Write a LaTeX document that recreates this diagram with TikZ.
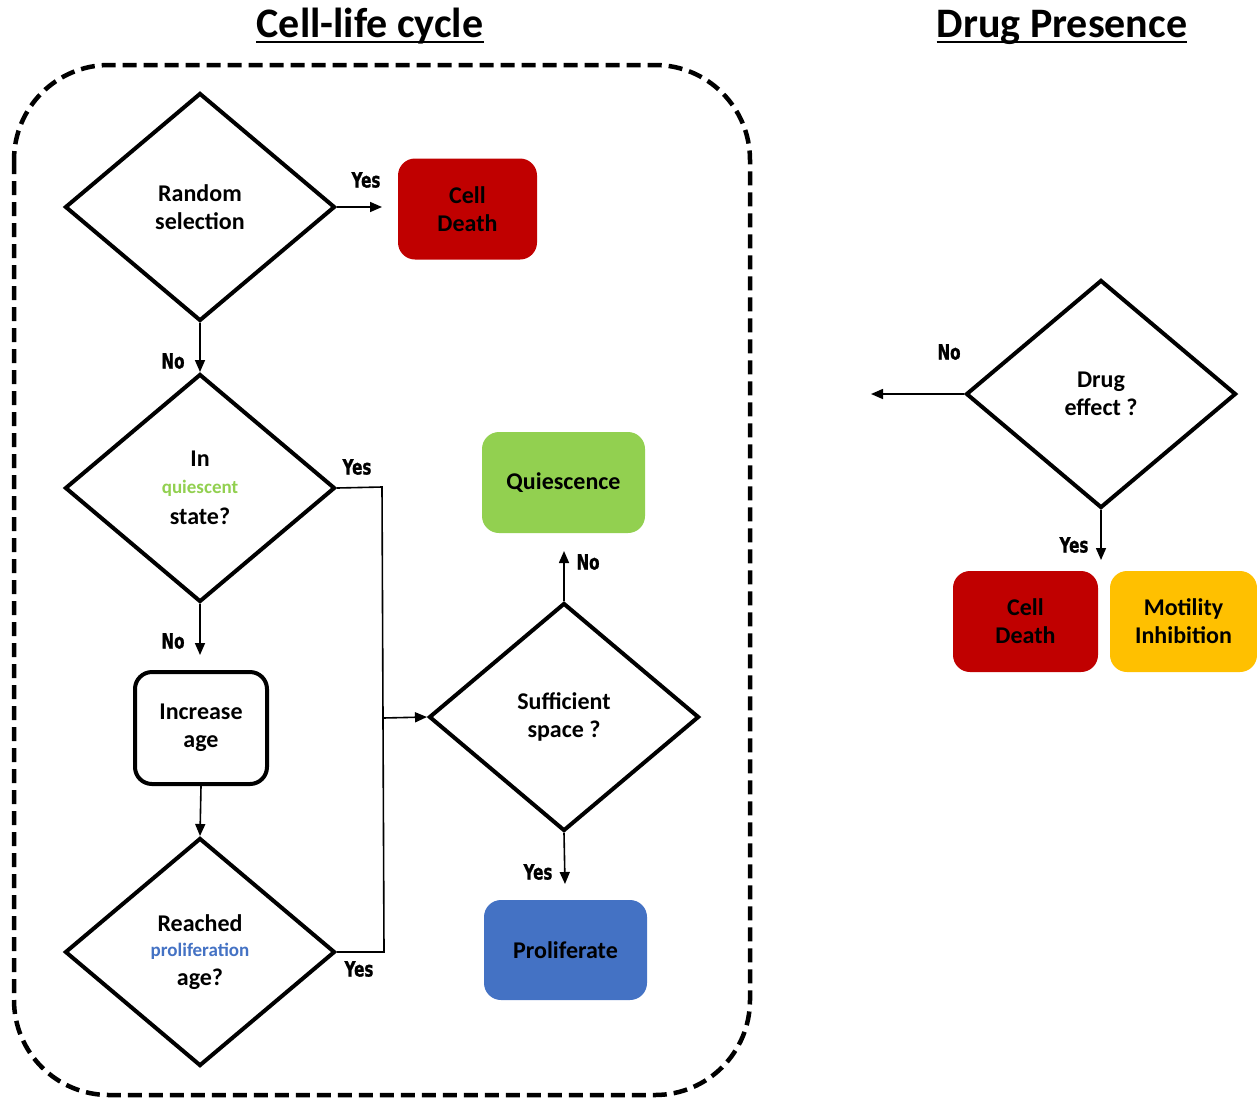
\documentclass[tikz,border=0pt]{standalone}
\usepackage{fontspec}
\setmainfont{Carlito}
\newfontfamily\ynfont[FakeStretch=0.72,FakeBold=1.2]{DejaVu Sans}
\usetikzlibrary{shapes.geometric,arrows.meta}
\definecolor{cred}{HTML}{C00000}
\definecolor{cgreen}{HTML}{92D050}
\definecolor{cblue}{HTML}{4472C4}
\definecolor{cyellow}{HTML}{FFC000}
\tikzset{
  dec/.style={diamond, draw=black, line width=4pt, fill=white, minimum width=270pt, minimum height=228pt, inner sep=0pt, align=center, font=\fontsize{24}{28}\selectfont\bfseries},
  box/.style={rectangle, rounded corners=17pt, minimum width=#1, minimum height=101pt, inner sep=0pt, align=center, font=\fontsize{24}{28}\selectfont\bfseries},
  conn/.style={line width=1.6pt, -{Triangle[length=12pt,width=10pt]}},
  plain/.style={line width=1.6pt},
  yn/.style={font=\ynfont\bfseries\fontsize{21}{24}\selectfont, inner sep=0pt},
  ttl/.style={font=\fontsize{42}{46}\selectfont\bfseries, inner sep=0pt, anchor=base}
}
\begin{document}
\begin{tikzpicture}[x=1pt,y=-1pt]
\useasboundingbox (0,0) rectangle (1257,1101);
% dashed frame
\draw[line width=4.5pt, dash pattern=on 14pt off 7pt, rounded corners=95pt] (14,65) rectangle (750,1095);
% titles
\node[ttl] (t1) at (370,37) {Cell-life cycle};
\draw[line width=2.5pt] (t1.base west |- 0,42) -- (t1.base east |- 0,42);
\node[ttl] (t2) at (1062,37) {Drug Presence};
\draw[line width=2.5pt] (t2.base west |- 0,42) -- (t2.base east |- 0,42);
% decisions
\node[dec] (d1) at (200,207) {Random\\selection};
\node[dec] (d2) at (200,488) {In\\[-1pt]{\fontsize{19}{22}\selectfont\color{cgreen}quiescent}\\[3pt]state?};
\node[dec] (d4) at (200,952) {Reached\\[-3pt]{\fontsize{19}{22}\selectfont\color{cblue}proliferation}\\[1pt]age?};
\node[dec] (d3) at (564,717) {Sufficient\\space ?};
\node[dec] (d5) at (1101,394) {Drug\\effect ?};
% boxes
\node[box=139pt, fill=cred] (cd1) at (467.5,209) {Cell\\Death};
\node[box=163pt, fill=cgreen] (qu) at (563.5,482.5) {Quiescence};
\node[box=163pt, fill=cblue, minimum height=100pt] (pr) at (565.5,950) {Proliferate};
\node[box=132pt, draw=black, line width=4pt, fill=white, minimum height=112pt] (inc) at (201,728) {Increase\\age};
\node[box=145pt, fill=cred] (cd2) at (1025.5,621.5) {Cell\\Death};
\node[box=147pt, fill=cyellow] (mo) at (1183.5,621.5) {Motility\\Inhibition};
% free ends
\coordinate (e1) at (382,207);
\coordinate (e2) at (200,655);
\coordinate (e3) at (564,551);
\coordinate (e4) at (565,884);
\coordinate (e5) at (871,394);
\coordinate (e6) at (1101,560);
\coordinate (j1) at (382,487);
\coordinate (j2) at (384,952);
\coordinate (j3) at (383,718);
% connectors
\draw[conn] (d1.east) -- (e1);
\draw[conn] (d1.south) -- (d2.north);
\draw[plain] (d2.east) -- (j1) -- (j2) -- (d4.east);
\draw[conn] (j3) -- (d3.west);
\draw[conn] (d2.south) -- (e2);
\draw[conn] (inc.south) -- (d4.north);
\draw[conn] (d3.north) -- (e3);
\draw[conn] (d3.south) -- (e4);
\draw[conn] (d5.west) -- (e5);
\draw[conn] (d5.south) -- (e6);
% labels
\node[yn] (l1) at (366,180) {Yes};
\node[yn] (l2) at (173,361) {No};
\node[yn] (l3) at (357,467) {Yes};
\node[yn] (l4) at (173,641) {No};
\node[yn] (l5) at (359,969) {Yes};
\node[yn] (l6) at (588,562) {No};
\node[yn] (l7) at (538,872) {Yes};
\node[yn] (l8) at (949,352) {No};
\node[yn] (l9) at (1074,545) {Yes};
\end{tikzpicture}
\end{document}
